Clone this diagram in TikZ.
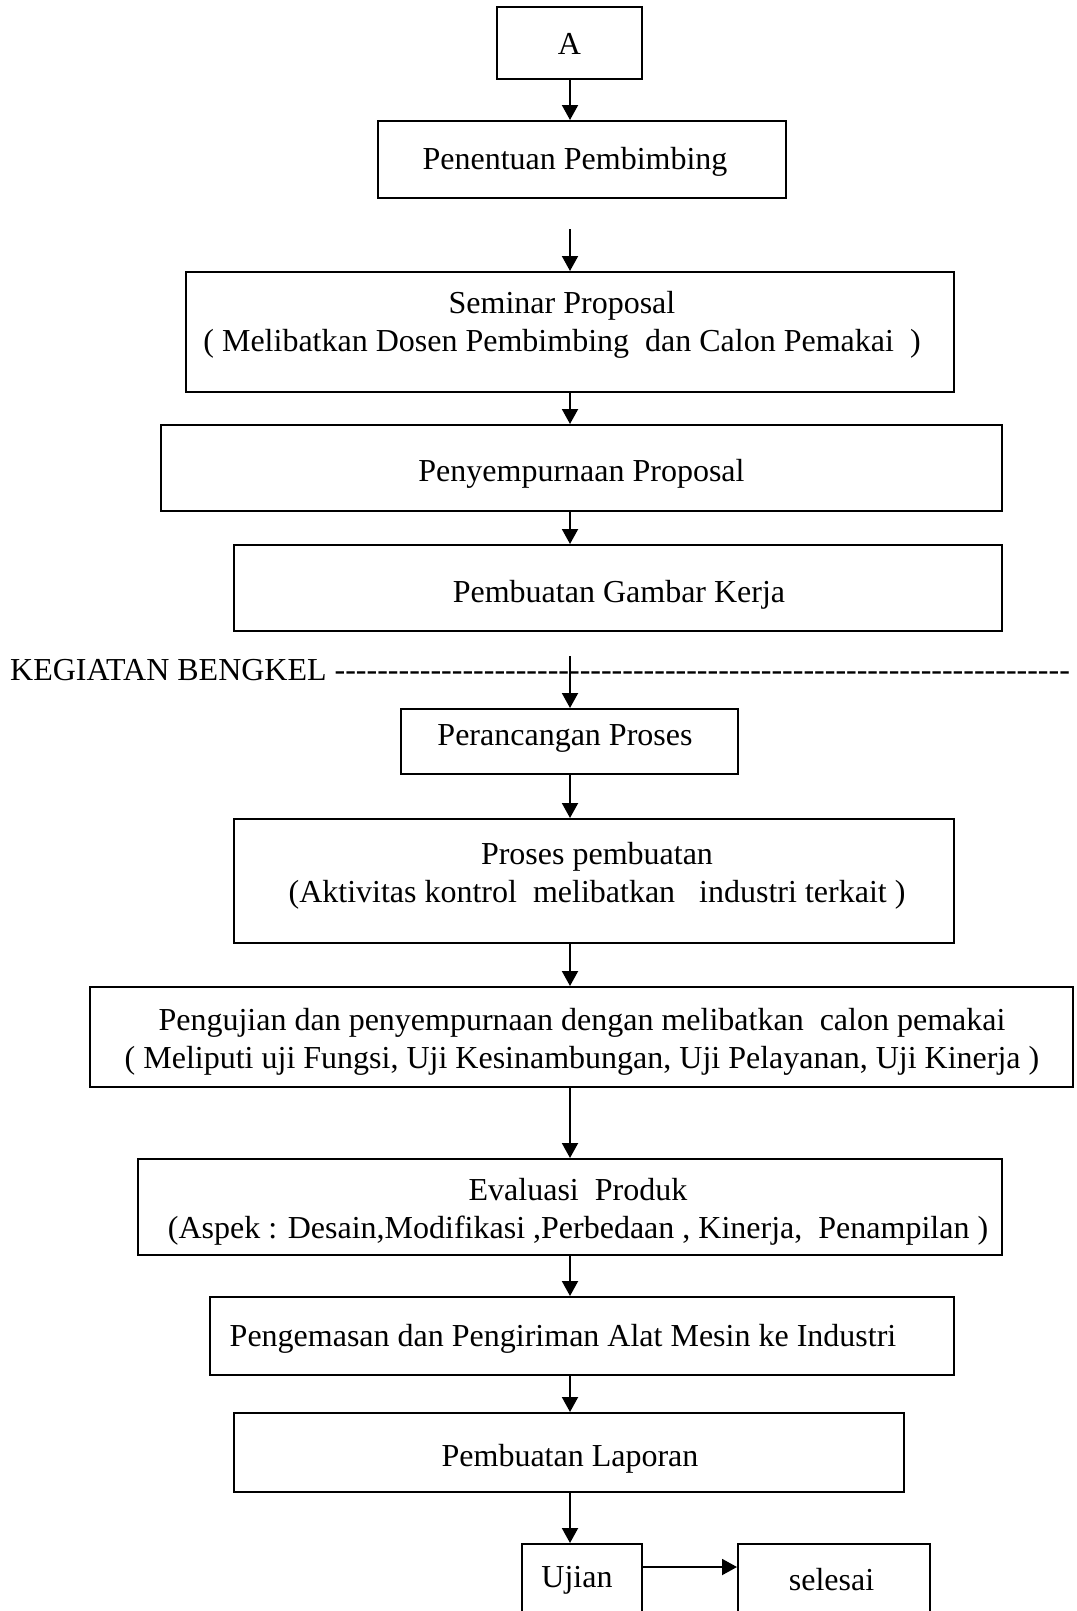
\documentclass[tikz,border=0pt]{standalone}
\usepackage{fontspec}
\setmainfont{Liberation Serif}
\usetikzlibrary{arrows.meta}
\begin{document}
\begin{tikzpicture}[x=1pt,y=-1pt,
  box/.style={draw, line width=2pt, inner sep=0pt},
  lbl/.style={font=\fontsize{32}{38}\selectfont, align=center, inner sep=0pt},
  arr/.style={line width=2pt, -{Triangle[width=16pt,length=15pt]}}]
\useasboundingbox (0,0) rectangle (1076,1611);
\clip (0,0) rectangle (1076,1611);
\coordinate (spine) at (570,0);

% process boxes
\node[box, minimum width=145pt, minimum height=72pt] (a) at (569.5,43) {};
\node[lbl] (a-t) at (569.5,44) {A};

\node[box, minimum width=408pt, minimum height=77pt] (penentuan) at (582,159.5) {};
\node[lbl] (penentuan-t) at (575,162) {Penentuan Pembimbing};

\node[box, minimum width=768pt, minimum height=120pt] (seminar) at (570,332) {};
\node[lbl] (seminar-t) at (562,325) {Seminar Proposal\\( Melibatkan Dosen Pembimbing~~dan Calon Pemakai~~)};

\node[box, minimum width=841pt, minimum height=86pt] (penyempurnaan) at (581.5,468) {};
\node[lbl] (penyempurnaan-t) at (581.5,474) {Penyempurnaan Proposal};

\node[box, minimum width=768pt, minimum height=86pt] (gambar) at (618,588) {};
\node[lbl] (gambar-t) at (619,595) {Pembuatan Gambar Kerja};

% workshop section marker
\node[lbl, anchor=west] (bengkel) at (10,670) {KEGIATAN BENGKEL \foreach \i in {1,...,69}{-{}}};

\node[box, minimum width=337pt, minimum height=65pt] (rancang) at (569.5,741.5) {};
\node[lbl] (rancang-t) at (565,738) {Perancangan Proses};

\node[box, minimum width=720pt, minimum height=124pt] (proses) at (594,881) {};
\node[lbl] (proses-t) at (597,876) {Proses pembuatan\\(Aktivitas kontrol~~melibatkan~~~industri terkait )};

\node[box, minimum width=983pt, minimum height=100pt] (uji) at (581.5,1037) {};
\node[lbl] (uji-t) at (582,1042) {Pengujian dan penyempurnaan dengan melibatkan~~calon pemakai\\( Meliputi uji Fungsi, Uji Kesinambungan, Uji Pelayanan, Uji Kinerja )};

\node[box, minimum width=864pt, minimum height=96pt] (evaluasi) at (570,1207) {};
\node[lbl] (evaluasi-t) at (578,1212) {Evaluasi~~Produk\\(Aspek : Desain,Modifikasi ,Perbedaan , Kinerja,~~Penampilan )};

\node[box, minimum width=744pt, minimum height=78pt] (kemas) at (582,1336) {};
\node[lbl] (kemas-t) at (563,1339) {Pengemasan dan Pengiriman Alat Mesin ke Industri};

\node[box, minimum width=670pt, minimum height=79pt] (laporan) at (569,1452.5) {};
\node[lbl] (laporan-t) at (570,1459) {Pembuatan Laporan};

\node[box, minimum width=120pt, minimum height=110pt] (ujian) at (582,1599) {};
\node[lbl] (ujian-t) at (577,1580) {Ujian};

\node[box, minimum width=192pt, minimum height=110pt] (selesai) at (834,1599) {};
\node[lbl] (selesai-t) at (831.5,1580) {selesai};

% connectors
\draw[arr] (a.south -| spine) -- (penentuan.north -| spine);
\draw[arr, shorten <=30pt] (penentuan.south -| spine) -- (seminar.north -| spine);
\draw[arr] (seminar.south -| spine) -- (penyempurnaan.north -| spine);
\draw[arr] (penyempurnaan.south -| spine) -- (gambar.north -| spine);
\draw[arr, shorten <=24pt] (gambar.south -| spine) -- (rancang.north -| spine);
\draw[arr] (rancang.south -| spine) -- (proses.north -| spine);
\draw[arr] (proses.south -| spine) -- (uji.north -| spine);
\draw[arr] (uji.south -| spine) -- (evaluasi.north -| spine);
\draw[arr] (evaluasi.south -| spine) -- (kemas.north -| spine);
\draw[arr] (kemas.south -| spine) -- (laporan.north -| spine);
\draw[arr] (laporan.south -| spine) -- (ujian.north -| spine);
\draw[arr] ([yshift=-24pt]ujian.north east) -- ([yshift=-24pt]selesai.north west);
\end{tikzpicture}
\end{document}
